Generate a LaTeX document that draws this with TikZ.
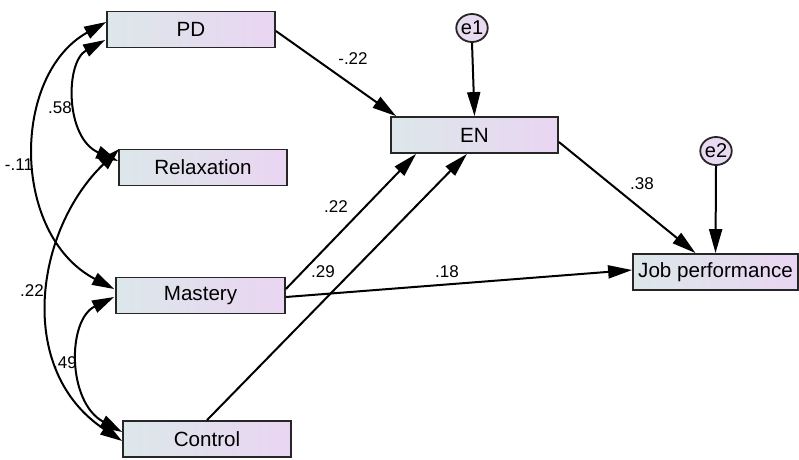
\documentclass[tikz,border=0pt]{standalone}
\usepackage{fontspec}
\setmainfont{Liberation Sans}
\usetikzlibrary{arrows.meta,calc,shapes.geometric}
\definecolor{boxleft}{RGB}{220,231,234}
\definecolor{boxright}{RGB}{234,213,242}
\definecolor{errfill}{RGB}{232,218,240}
\begin{document}
\begin{tikzpicture}[x=1pt,y=-1pt,
  var/.style={draw=black!85, line width=1.8pt, left color=boxleft, right color=boxright,
    minimum height=36pt, inner sep=0pt, font=\fontsize{20.6}{21}\selectfont},
  err/.style={ellipse, draw=black!85, line width=1.8pt, fill=errfill, minimum width=24pt,
    minimum height=28pt, inner sep=0pt, font=\fontsize{20}{20}\selectfont},
  reg/.style={line width=2pt, -{Triangle[length=24pt,width=13pt]}},
  cov/.style={line width=2pt, {Triangle[length=22pt,width=13pt]}-{Triangle[length=22pt,width=13pt]}},
  coef/.style={font=\fontsize{17}{17}\selectfont, inner sep=0pt}]
\useasboundingbox (0,0) rectangle (799,459);

% observed variables
\node[var, minimum width=168pt] (pd)  at (191,29.5)  {PD};
\node[var, minimum width=168pt] (rel) at (203,167.5) {Relaxation};
\node[var, minimum width=169pt] (mas) at (200.5,295.5) {Mastery};
\node[var, minimum width=168pt] (con) at (207,439)   {Control};
\node[var, minimum width=167pt] (en)  at (474.5,135) {EN};
\node[var, minimum width=165pt] (job) at (715.5,272) {Job performance};

% error terms
\node[err] (e1) at (472,28)  {e1};
\node[err] (e2) at (716,151) {e2};

% covariances among the exogenous variables
\draw[cov] ($(pd.west)+(0,-7.5)$) .. controls (11,75) and (11,235) .. ($(mas.west)+(-1,-6.5)$);
\draw[cov] ($(pd.west)+(-1,10.5)$) .. controls (65,62) and (65,138) .. ($(rel.west)+(0,-6.5)$);
\draw[cov] ($(rel.north west)+(1,0.5)$) .. controls (35,230) and (15,370) .. ($(con.west)+(0,2)$);
\draw[cov] ($(mas.west)+(-1,1.5)$) .. controls (67,320) and (67,402) .. ($(con.west)+(0,-7)$);

% regression paths
\draw[reg] ($(pd.east)+(0,1.5)$) -- ($(en.north west)+(6,0)$);
\draw[reg] (e1.south) -- (en.north);
\draw[reg] ($(en.east)+(0,7)$) -- ($(job.north)+(-20,0)$);
\draw[reg] (e2.south) -- (job.north);
\draw[reg] ($(mas.east)+(0,-6.5)$) -- ($(en.south west)+(26,0)$);
\draw[reg] (con.north) -- ($(en.south)+(-7.5,0)$);
\draw[reg] ($(mas.east)+(0,1.5)$) -- ($(job.west)+(0,-2)$);

% coefficients
\node[coef] (c1) at (353,59)  {-.22};
\node[coef] (c2) at (60,108)  {.58};
\node[coef] (c3) at (19,165)  {-.11};
\node[coef] (c4) at (32,291)  {.22};
\node[coef] (c5) at (65,363)  {.49};
\node[coef] (c6) at (336,207) {.22};
\node[coef] (c7) at (323,272) {.29};
\node[coef] (c8) at (447,272) {.18};
\node[coef] (c9) at (642,184) {.38};
\end{tikzpicture}
\end{document}
